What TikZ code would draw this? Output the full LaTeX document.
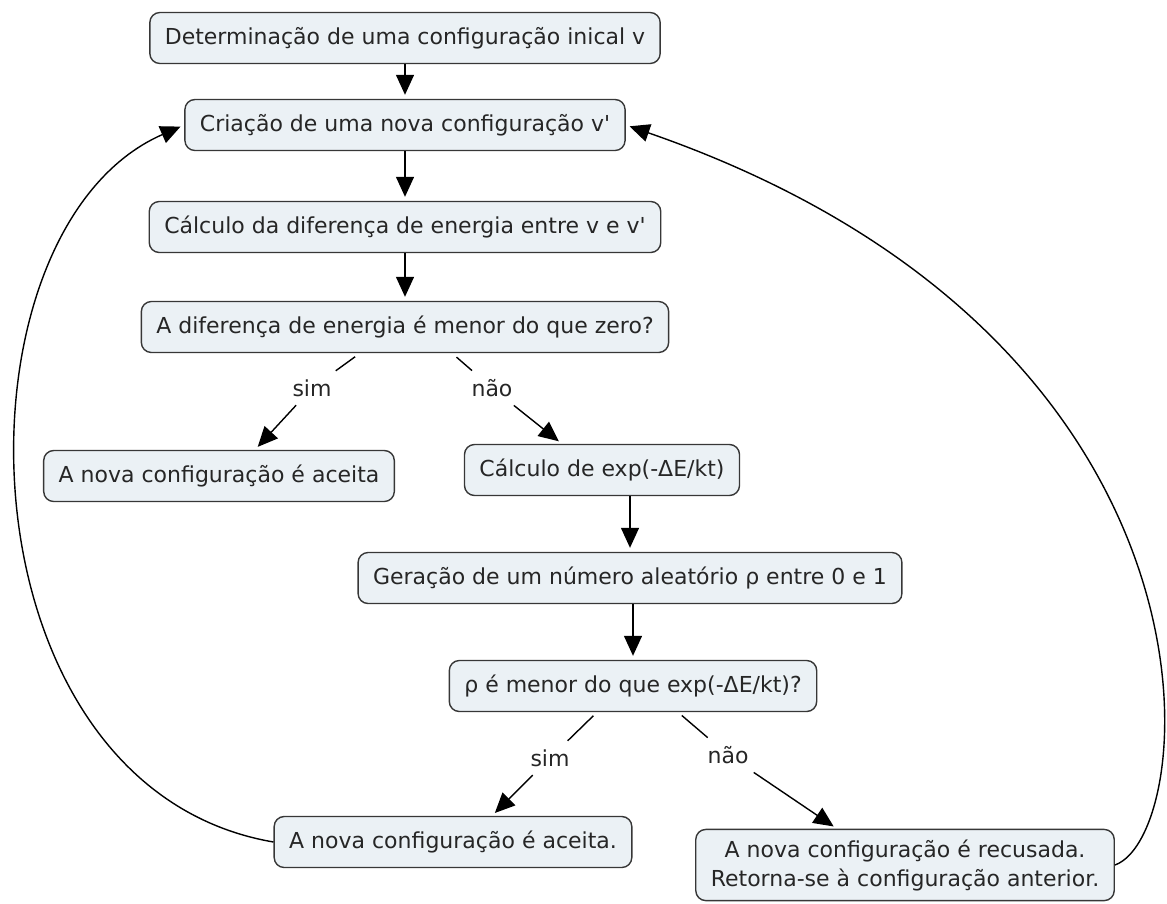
\documentclass[tikz,border=0pt]{standalone}
\usepackage{fontspec}
\setmainfont{DejaVu Sans}
\usetikzlibrary{arrows.meta}
\definecolor{conceptfill}{RGB}{235,241,245}
\definecolor{conceptline}{RGB}{55,55,55}

\begin{document}
\begin{tikzpicture}[x=1pt, y=-1pt, line width=1.4pt,
		concept/.style={draw=conceptline, fill=conceptfill, rounded corners=10pt, inner xsep=15pt, minimum height=51pt, font=\fontsize{22}{29}\selectfont, text=black!85},
		phrase/.style={inner sep=8pt, font=\fontsize{22}{27}\selectfont, text=black!85},
		arr/.style={-{Triangle[length=20pt, width=18pt]}, shorten >=4pt}]
		\useasboundingbox (0,0) rectangle (1167,903);

		\node[concept] (n1) at (405,38) {Determinação de uma configuração inical v};
		\node[concept] (n2) at (405,125) {Criação de uma nova configuração v\textquotesingle};
		\node[concept] (n3) at (405,227) {Cálculo da diferença de energia entre v e v\textquotesingle};
		\node[concept] (n4) at (405,327) {A diferença de energia é menor do que zero?};
		\node[concept] (n5) at (219,476) {A nova configuração é aceita};
		\node[concept] (n6) at (602,470) {Cálculo de exp(-ΔE/kt)};
		\node[concept] (n7) at (630,578) {Geração de um número aleatório ρ entre 0 e 1};
		\node[concept] (n8) at (633,686) {ρ é menor do que exp(-ΔE/kt)?};
		\node[concept] (n9) at (453,842) {A nova configuração é aceita.};
		\node[concept, align=center, inner ysep=10pt] (n10) at (905,865) {A nova configuração é recusada.\\Retorna-se à configuração anterior.};

		\node[phrase] (s1) at (312,388) {sim};
		\node[phrase] (s2) at (492,388) {não};
		\node[phrase] (s3) at (550,758) {sim};
		\node[phrase] (s4) at (728,755) {não};

		\draw[arr] (n1) -- (n2);
		\draw[arr] (n2) -- (n3);
		\draw[arr] (n3) -- (n4);

		\draw[shorten <=6pt] ([xshift=-45pt]n4.south) -- (s1);
		\draw[arr] (s1) -- ([xshift=36pt]n5.north);
		\draw[shorten <=6pt] ([xshift=47pt]n4.south) -- (s2);
		\draw[arr] (s2) -- ([xshift=-40pt]n6.north);

		\draw[arr] (n6.south -| n7.north) -- (n7.north);
		\draw[arr] (n7.south -| n8.north) -- (n8.north);

		\draw[shorten <=5pt] ([xshift=-36pt]n8.south) -- (s3);
		\draw[arr] (s3) -- ([xshift=39pt]n9.north);
		\draw[shorten <=5pt] ([xshift=45pt]n8.south) -- (s4);
		\draw[arr] (s4) -- ([xshift=-68pt]n10.north);

		\draw[arr] (n9.west) .. controls +(-320,-55) and +(-240,105) .. (n2.west);
		\draw[arr] (n10.east) .. controls +(85,-30) and +(620,215) .. (n2.east);
	\end{tikzpicture}
\end{document}
